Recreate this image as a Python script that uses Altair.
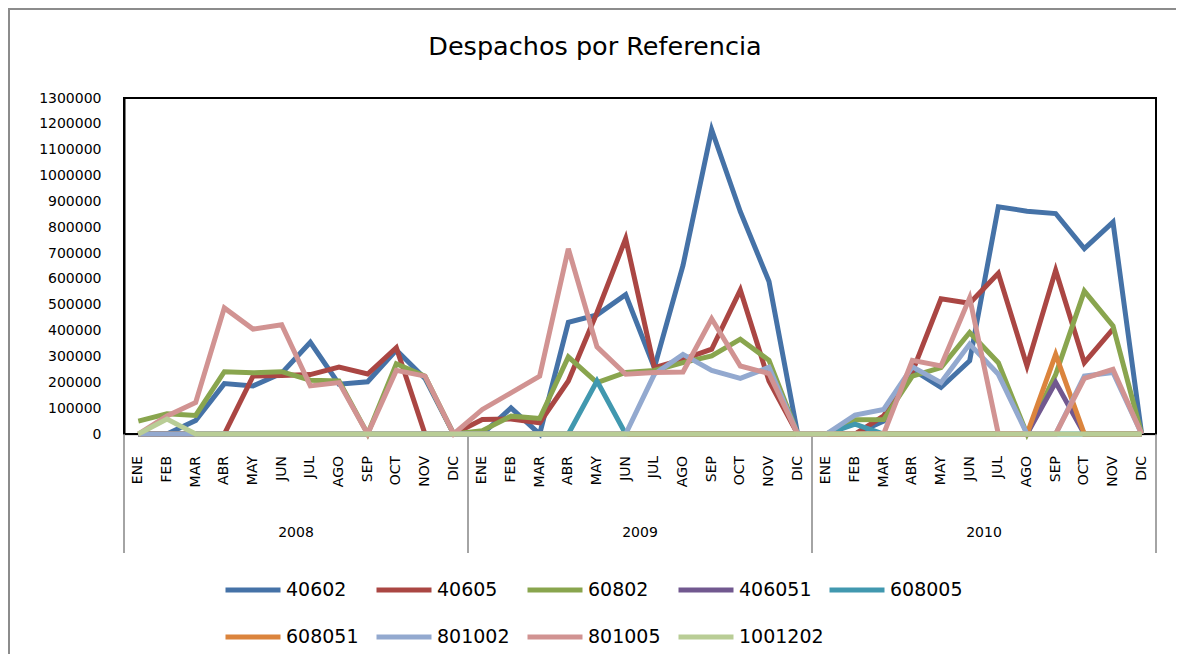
import altair as alt
import pandas as pd

MONTHS = ["ENE", "FEB", "MAR", "ABR", "MAY", "JUN", "JUL", "AGO", "SEP", "OCT", "NOV", "DIC"]
YEARS = ["2008", "2009", "2010"]
TITLE = "Despachos por Referencia"

SERIES = ["40602", "40605", "60802", "406051", "608005", "608051", "801002", "801005", "1001202"]
COLORS = ["#4572A7", "#AA4643", "#89A54E", "#71588F", "#4198AF", "#DB843D", "#93A9CF", "#D19392", "#B9CD96"]

s40602 = [0, 0, 52000, 195000, 186000, 235000, 355000, 193000, 202000, 325000, 215000, 0,
          0, 101000, 0, 432000, 461000, 539000, 257000, 652000, 1177000, 860000, 590000, 0,
          0, 0, 50000, 250000, 180000, 283000, 879000, 862000, 853000, 717000, 820000, 0]
s40605 = [0, 0, 0, 0, 224000, 226000, 230000, 259000, 232000, 334000, 0, 0,
          56000, 58000, 43000, 205000, 470000, 756000, 257000, 289000, 328000, 557000, 205000, 0,
          0, 0, 70000, 240000, 523000, 506000, 622000, 263000, 633000, 276000, 406000, None]
s60802 = [50000, 78000, 72000, 241000, 237000, 241000, 208000, 205000, 0, 272000, 224000, 0,
          13000, 69000, 60000, 298000, 199000, 238000, 246000, 276000, 302000, 367000, 285000, 0,
          0, 55000, 56000, 224000, 257000, 393000, 276000, 0, 230000, 553000, 418000, 0]
s406051 = [0] * 12 + [0] * 12 + [0, 0, 0, 0, 0, 0, 0, 0, 200000, 0, 0, 0]
s608005 = [0] * 12 + [0, 0, 0, 0, 205000, 0, 0, 0, 0, 0, 0, 0] + [0, 38000, 0, 0, 0, 0, 0, 0, 0, 0, 0, 0]
s608051 = [0] * 12 + [0] * 12 + [0, 0, 0, 0, 0, 0, 0, 0, 308000, 0, 0, 0]
s801002 = [0] * 12 + [0, 0, 0, 0, 0, 0, 231000, 308000, 246000, 215000, 258000, 0] + \
          [0, 73000, 95000, 260000, 199000, 348000, 231000, 0, 0, 224000, 238000, 0]
s801005 = [0, 70000, 122000, 488000, 406000, 423000, 186000, 199000, 0, 246000, 224000, 0,
           95000, 159000, 224000, 717000, 337000, 231000, 238000, 240000, 446000, 263000, 234000, 0,
           0, 0, 0, 285000, 263000, 527000, 0, 0, 0, 215000, 250000, 0]
s1001202 = [0, 58000] + [0] * 34

VALUES = [s40602, s40605, s60802, s406051, s608005, s608051, s801002, s801005, s1001202]

rows = []
for name, vals in zip(SERIES, VALUES):
    for i, v in enumerate(vals):
        if v is None:
            continue
        rows.append({"series": name, "idx": i, "value": v})
df = pd.DataFrame(rows)

W, H = 1032, 336
FONT = "DejaVu Sans"
GRAY = "#868686"

xscale = alt.Scale(domain=[-0.5, 35.5], nice=False, zero=False)

lines = alt.Chart(df).mark_line(strokeWidth=5).encode(
    x=alt.X("idx:Q", scale=xscale,
            axis=alt.Axis(labels=False, ticks=False, domainColor=GRAY, domainWidth=1.5,
                          grid=False, title=None)),
    y=alt.Y("value:Q",
            scale=alt.Scale(domain=[0, 1300000], nice=False),
            axis=alt.Axis(values=list(range(0, 1300001, 100000)), format="d", ticks=False,
                          labelPadding=23, domainColor="black", domainWidth=2, grid=False,
                          title=None, labelFontSize=14, labelColor="black", labelFont=FONT)),
    color=alt.Color("series:N",
                    scale=alt.Scale(domain=SERIES, range=COLORS),
                    legend=alt.Legend(orient="none", legendX=99, legendY=462,
                                      direction="horizontal", columns=5,
                                      symbolType="stroke", symbolSize=3025,
                                      symbolStrokeWidth=5, labelFontSize=19,
                                      labelFont=FONT, labelColor="black",
                                      columnPadding=-5, rowPadding=7,
                                      gridAlign="all", title=None, labelOffset=3,
                                      labelLimit=300)),
    order=alt.Order("idx:Q"),
)

month_df = pd.DataFrame({"idx": list(range(36)), "month": MONTHS * 3})
month_text = alt.Chart(month_df).mark_text(
    fontSize=14, font=FONT, color="black", angle=270, align="right", baseline="middle"
).encode(x=alt.X("idx:Q", scale=xscale), y=alt.value(H + 22), text="month:N")

seps = pd.DataFrame({"pos": [-0.5, 11.5, 23.5, 35.5]})
sep_rules = alt.Chart(seps).mark_rule(color=GRAY, strokeWidth=1.5).encode(
    x="pos:Q", y=alt.value(H), y2=alt.value(455)
)

years_df = pd.DataFrame({"year": YEARS, "pos": [12 * i + 5.5 for i in range(3)]})
year_text = alt.Chart(years_df).mark_text(fontSize=14, font=FONT, color="black",
                                          baseline="middle").encode(
    x="pos:Q", y=alt.value(435), text="year:N"
)

title_text = alt.Chart(pd.DataFrame({"t": [TITLE]})).mark_text(
    fontSize=25.5, font=FONT, color="black", baseline="middle", align="center"
).encode(x=alt.value(471), y=alt.value(-51), text="t:N")

outer = alt.Chart(pd.DataFrame({"a": [0]})).mark_rect(
    filled=False, stroke="#8c8c8c", strokeWidth=2
).encode(x=alt.value(-115), x2=alt.value(1200), y=alt.value(-89), y2=alt.value(700))

inner = alt.Chart(pd.DataFrame({"a": [0]})).mark_rect(
    filled=False, stroke="black", strokeWidth=2
).encode(x=alt.value(0), x2=alt.value(W), y=alt.value(0), y2=alt.value(H))

chart = alt.layer(outer, inner, sep_rules, lines, month_text, year_text, title_text).properties(
    width=W, height=H,
    autosize=alt.AutoSizeParams(type="none"),
    padding={"left": 116, "top": 90, "right": 20, "bottom": 220},
    background="white",
).configure_view(stroke=None)

chart.save("out.html", embed_options={"renderer": "svg", "actions": False})
